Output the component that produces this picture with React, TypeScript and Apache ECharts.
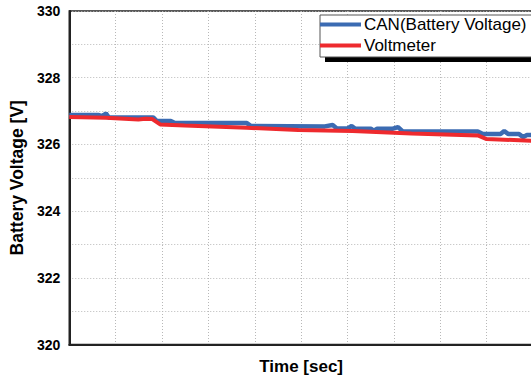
import React, { useEffect, useRef } from "react";
import * as echarts from "echarts";

// CAN (Battery Voltage) breakpoints: time (arbitrary units 0..100) and voltage [V]
const canTime = [0, 6.4, 7.2, 7.9, 8.5, 18.1, 18.9, 21.9, 22.8, 38.3, 39.2, 55.1, 56.8, 57.7, 60.0, 60.9, 61.7, 65.1, 65.7, 66.4, 69.8, 70.9, 71.9, 88.1, 89.2, 93.0, 93.8, 94.7, 97.0, 97.9, 98.7, 100];
const canVolt = [326.88, 326.88, 326.85, 326.93, 326.81, 326.81, 326.7, 326.7, 326.64, 326.64, 326.55, 326.54, 326.58, 326.48, 326.48, 326.55, 326.47, 326.47, 326.41, 326.47, 326.47, 326.52, 326.39, 326.39, 326.31, 326.31, 326.4, 326.31, 326.31, 326.22, 326.28, 326.28];

// Voltmeter breakpoints
const vmTime = [0, 7.9, 14.9, 16.4, 17.9, 19.6, 24.9, 38.3, 49.4, 61.1, 73.8, 88.1, 90.0, 100];
const vmVolt = [326.82, 326.8, 326.75, 326.77, 326.76, 326.6, 326.57, 326.5, 326.43, 326.4, 326.33, 326.27, 326.16, 326.11];

const seriesNames = ["CAN(Battery Voltage)", "Voltmeter"];
const yMin = 320;
const yMax = 330;
const xMin = 0;
const xMax = 100;

const FONT = 'Arial, "Liberation Sans", sans-serif';

export default function App() {
  const ref = useRef<HTMLDivElement>(null);
  useEffect(() => {
    if (!ref.current) return;
    const chart = echarts.init(ref.current, undefined, { renderer: "svg" });
    const canData = canTime.map((t, i) => [t, canVolt[i]]);
    const vmData = vmTime.map((t, i) => [t, vmVolt[i]]);
    chart.setOption({
      animation: false,
      backgroundColor: "#fff",
      grid: {
        left: 63,
        top: 11,
        width: 470,
        height: 333.5,
        show: true,
        borderColor: "#222",
        borderWidth: 1.5,
        backgroundColor: "transparent",
      },
      xAxis: {
        type: "value",
        min: xMin,
        max: xMax,
        interval: 10,
        name: "Time [sec]",
        nameLocation: "middle",
        nameGap: 13,
        nameTextStyle: { fontFamily: FONT, fontSize: 17, fontWeight: "bold", color: "#000" },
        axisLine: { show: true, lineStyle: { color: "#222", width: 2 } },
        axisTick: { show: false },
        axisLabel: { show: false },
        splitLine: { show: true, lineStyle: { color: "#b8b8b8", type: [1, 2], width: 1 } },
      },
      yAxis: {
        type: "value",
        min: yMin,
        max: yMax,
        interval: 1,
        name: "Battery Voltage [V]",
        nameLocation: "middle",
        nameGap: 37,
        nameTextStyle: { fontFamily: FONT, fontSize: 17.5, fontWeight: "bold", color: "#000" },
        axisLine: { show: true, lineStyle: { color: "#222", width: 2 } },
        axisTick: { show: false },
        axisLabel: {
          margin: 9,
          fontFamily: FONT,
          fontSize: 14,
          fontWeight: "bold",
          color: "#000",
          formatter: (v: number) => (Math.round(v) % 2 === 0 ? String(v) : ""),
        },
        splitLine: { show: true, lineStyle: { color: "#b8b8b8", type: [1, 2], width: 1 } },
      },
      legend: {
        orient: "vertical",
        left: 320,
        top: 16,
        padding: 0,
        itemGap: 4,
        itemWidth: 41,
        itemHeight: 4,
        icon: "rect",
        z: 10,
        data: seriesNames,
        textStyle: { fontFamily: FONT, fontSize: 17, color: "#000", padding: [0, 0, 0, -2] },
      },
      graphic: [
        { type: "rect", z: 6, shape: { x: 325, y: 19, width: 240, height: 43 }, style: { fill: "#000" } },
        { type: "rect", z: 7, shape: { x: 320, y: 15, width: 240, height: 42 }, style: { fill: "#fff", stroke: "#555", lineWidth: 1 } },
      ],
      series: [
        {
          name: seriesNames[0],
          type: "line",
          data: canData,
          showSymbol: false,
          symbol: "none",
          color: "#3b6bb2",
          lineStyle: { width: 4.5, color: "#3b6bb2" },
          z: 2,
        },
        {
          name: seriesNames[1],
          type: "line",
          data: vmData,
          showSymbol: false,
          symbol: "none",
          color: "#ee2a2e",
          lineStyle: { width: 4, color: "#ee2a2e" },
          z: 3,
        },
      ],
    });
    return () => chart.dispose();
  }, []);
  return (
    <div style={{ position: "absolute", left: 0, top: 0, width: 531, height: 380, overflow: "hidden", background: "#fff" }}>
      <div ref={ref} style={{ width: 570, height: 380 }} />
    </div>
  );
}
